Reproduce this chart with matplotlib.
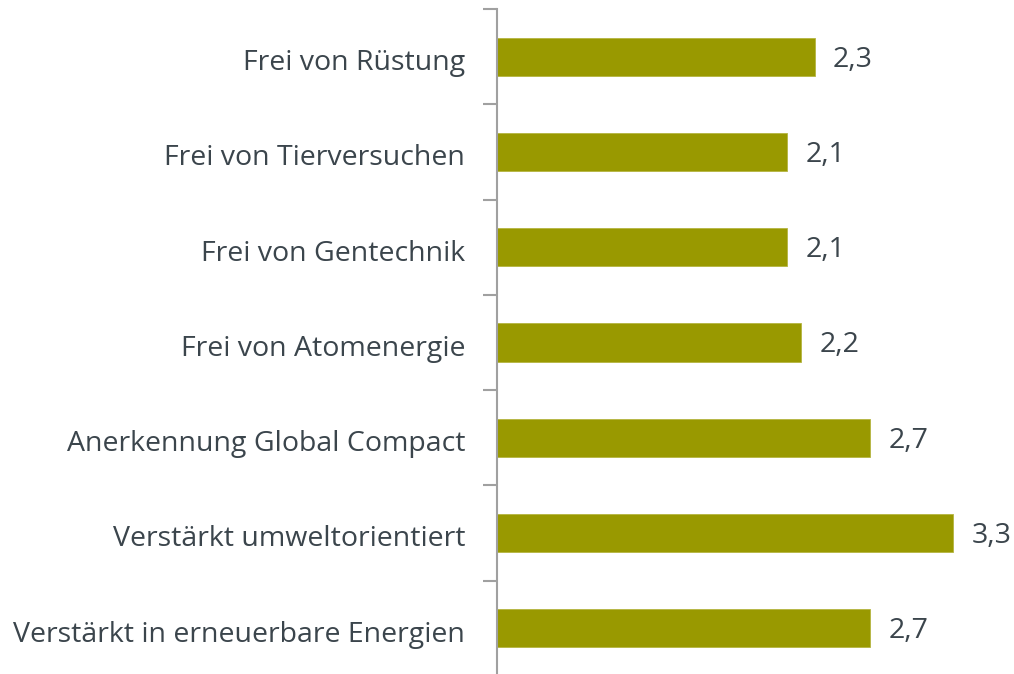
import matplotlib
matplotlib.use("Agg")
import matplotlib.pyplot as plt
import numpy as np

categories = [
    "Frei von Rüstung",
    "Frei von Tierversuchen",
    "Frei von Gentechnik",
    "Frei von Atomenergie",
    "Anerkennung Global Compact",
    "Verstärkt umweltorientiert",
    "Verstärkt in erneuerbare Energien",
]
values = [2.3, 2.1, 2.1, 2.2, 2.7, 3.3, 2.7]
value_labels = ["2,3", "2,1", "2,1", "2,2", "2,7", "3,3", "2,7"]

bar_color = "#999900"
text_color = "#3b454c"
axis_color = "#a0a0a0"

plt.rcParams['font.family'] = ['Open Sans', 'DejaVu Sans']

fig = plt.figure(figsize=(10.14, 6.74), dpi=100)
ax = fig.add_axes([497 / 1014, -2 / 674, 517 / 1014, 667 / 674])

y = np.arange(len(categories))
ax.barh(y, values, height=0.40, color=bar_color, edgecolor="#b5b540", linewidth=0.6)

for yi, v, lab in zip(y, values, value_labels):
    ax.text(v + 0.13, yi + 0.03, lab, va="center", ha="left", fontsize=20.5, color=text_color)

ax.set_xlim(0, 517 / 138.3)
ax.set_ylim(len(categories) - 0.5, -0.5)

ax.set_yticks(y + 0.03)
ax.set_yticklabels(categories, fontsize=20.5, color=text_color)
ax.tick_params(axis="y", which="major", length=0, pad=23)
ax.set_yticks(np.arange(-0.5, len(categories) + 0.5, 1.0), minor=True)
ax.tick_params(axis="y", which="minor", length=10, width=1.5, color=axis_color)
ax.set_xticks([])

for side in ["top", "right", "bottom"]:
    ax.spines[side].set_visible(False)
ax.spines["left"].set_color(axis_color)
ax.spines["left"].set_linewidth(1.5)

fig.savefig("out.png", dpi=100)
